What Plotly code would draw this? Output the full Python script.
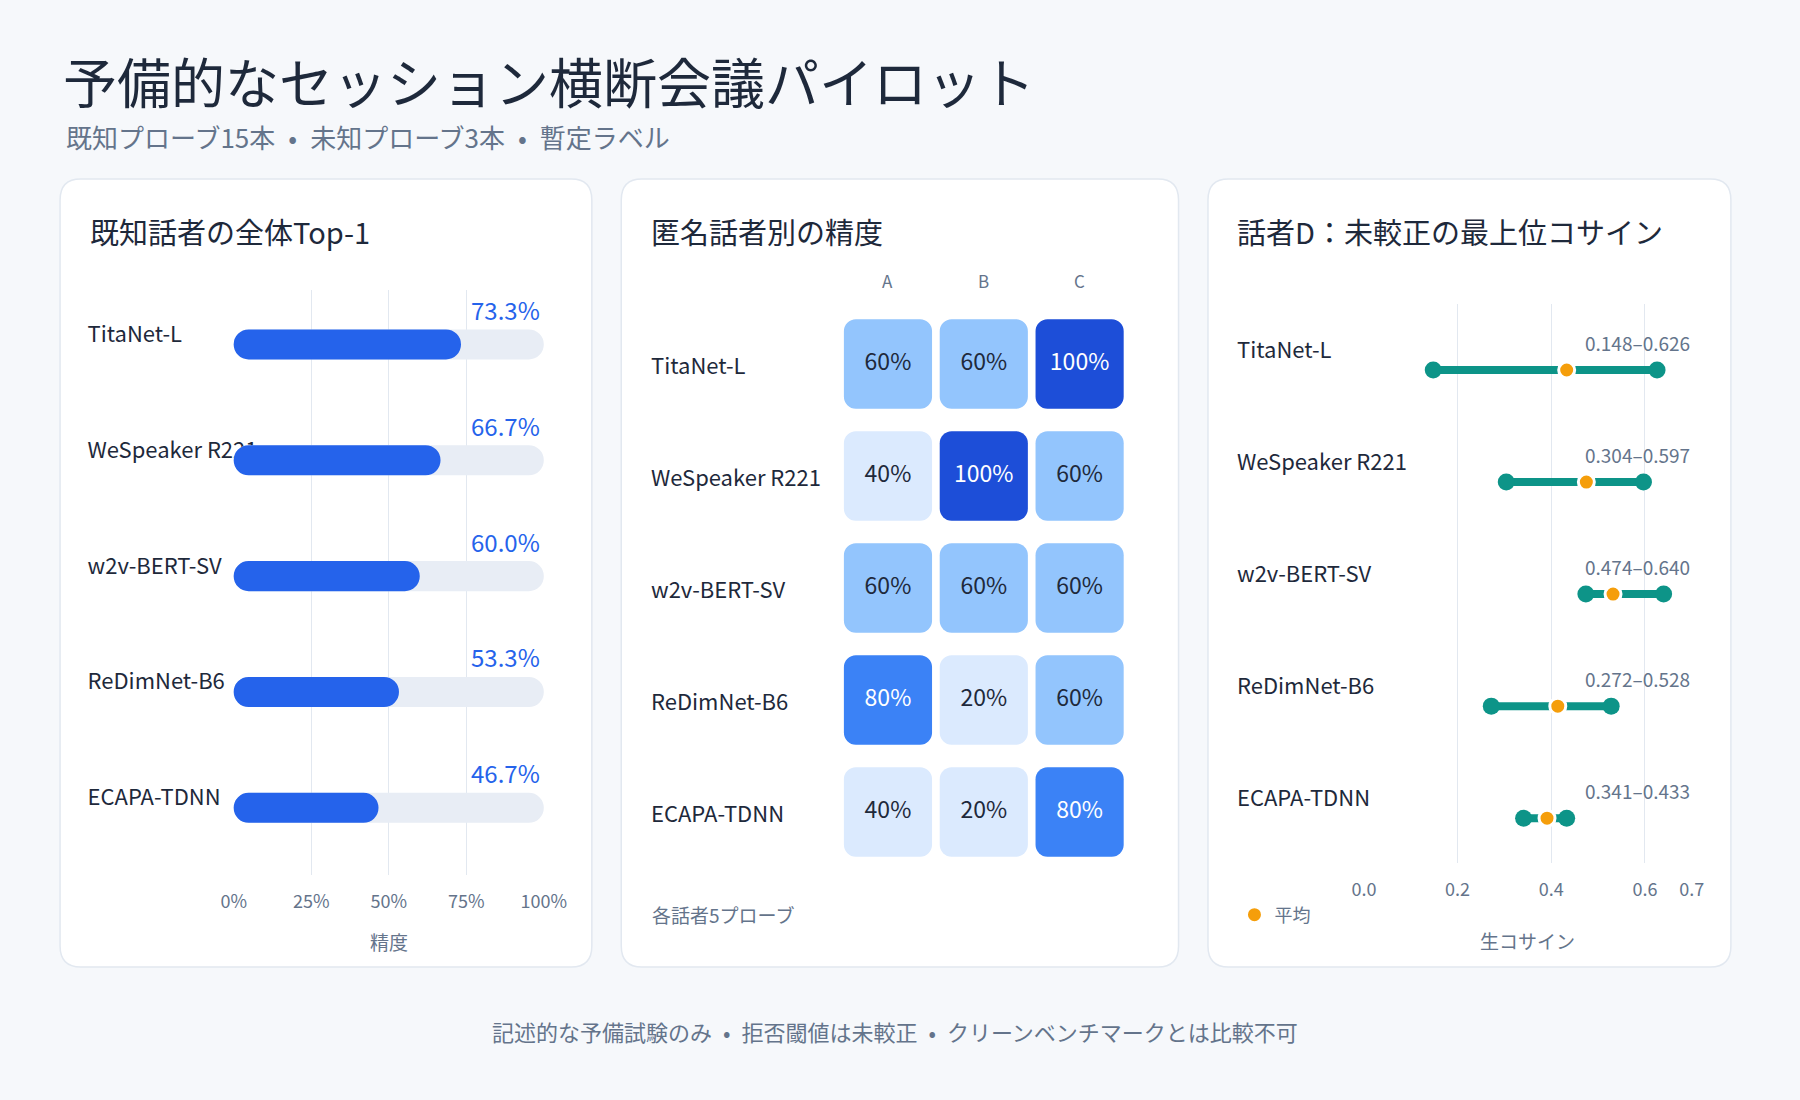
"""Cross-session meeting pilot: three-panel summary figure"""

import plotly.graph_objects as go

W, H = 1800, 1100

SEP = "\u2002•\u2002"
TITLE = "予備的なセッション横断会議パイロット"
SUBTITLE = SEP.join(["既知プローブ15本", "未知プローブ3本", "暫定ラベル"])
FOOTER = SEP.join(["記述的な予備試験のみ", "拒否閾値は未較正", "クリーンベンチマークとは比較不可"])

PANEL_TITLES = ["既知話者の全体Top-1", "匿名話者別の精度", "話者D：未較正の最上位コサイン"]

MODELS = ["TitaNet-L", "WeSpeaker R221", "w2v-BERT-SV", "ReDimNet-B6", "ECAPA-TDNN"]

# panel 1: overall top-1 on known speakers (%)
TOP1 = [73.3, 66.7, 60.0, 53.3, 46.7]
TOP1_TICKS = [0, 25, 50, 75, 100]

# panel 2: accuracy per anonymous speaker (%)
SPEAKERS = ["A", "B", "C"]
ACC_A = [60, 40, 60, 80, 40]
ACC_B = [60, 100, 60, 20, 20]
ACC_C = [100, 60, 60, 60, 80]
HEAT_NOTE = "各話者5プローブ"

# panel 3: speaker D raw top cosine
COS_MIN = [0.148, 0.304, 0.474, 0.272, 0.341]
COS_MAX = [0.626, 0.597, 0.640, 0.528, 0.433]
COS_MEAN = [0.433, 0.475, 0.532, 0.414, 0.391]
COS_TICKS = [0.0, 0.2, 0.4, 0.6, 0.7]

FONT = "Noto Sans CJK JP"
INK = "#1e293b"
MUTED = "#64748b"
GRID = "#e2e8f0"
BLUE = "#2563eb"
TRACK = "#e8edf5"
TEAL = "#0d9488"
ORANGE = "#f59e0b"
BG = "#f6f8fb"

HEAT_SCALE = [
    [0.0, "#dbeafe"], [0.5, "#dbeafe"],
    [0.5, "#93c5fd"], [0.7, "#93c5fd"],
    [0.7, "#3b82f6"], [0.9, "#3b82f6"],
    [0.9, "#1d4ed8"], [1.0, "#1d4ed8"],
]


def fx(px: float) -> float:
    return px / W


def fy(py: float) -> float:
    return 1 - py / H


def rounded_rect(x0, y0, x1, y1, r) -> str:
    """SVG path of a rounded rectangle in paper units (pixel input)."""
    rx, ry = r / W, r / H
    a, b = fx(x0), fx(x1)
    t, u = fy(y0), fy(y1)
    return (
        f"M{a + rx},{t} L{b - rx},{t} Q{b},{t} {b},{t - ry} "
        f"L{b},{u + ry} Q{b},{u} {b - rx},{u} "
        f"L{a + rx},{u} Q{a},{u} {a},{u + ry} "
        f"L{a},{t - ry} Q{a},{t} {a + rx},{t} Z"
    )


def pill(fig, start, stop, y, color, width, radius, xaxis, yaxis, **kw):
    """Horizontal bar from start to stop with all corners rounded."""
    fig.add_trace(
        go.Bar(
            base=start, x=[b - a for a, b in zip(start, stop)], y=y,
            orientation="h", width=width,
            marker=dict(color=color, cornerradius=radius, line=dict(width=0), **kw),
            xaxis=xaxis, yaxis=yaxis, hoverinfo="skip", showlegend=False,
        )
    )


fig = go.Figure()
n = len(MODELS)

# ---------- panel 1 ----------
# labels live in the first subplot so the bars are drawn over them
fig.add_trace(
    go.Scatter(
        x=[0] * n, y=MODELS, mode="text", text=MODELS,
        textposition="middle right",
        textfont=dict(size=22, color=INK, family=FONT),
        xaxis="x", yaxis="y", hoverinfo="skip", showlegend=False, cliponaxis=False,
    )
)
pill(fig, [TOP1_TICKS[0]] * n, [TOP1_TICKS[-1]] * n, MODELS, TRACK, 0.26, 15, "x2", "y2")
pill(fig, [TOP1_TICKS[0]] * n, TOP1, MODELS, BLUE, 0.26, 15, "x2", "y2")

# ---------- panel 2 ----------
for j, vals in enumerate([ACC_A, ACC_B, ACC_C]):
    pill(fig, [j - 0.46] * n, [j + 0.46] * n, MODELS, vals, 0.8, 12, "x3", "y3",
         colorscale=HEAT_SCALE, cmin=0, cmax=100)
    fig.add_trace(
        go.Scatter(
            x=[j] * n, y=MODELS, mode="text", text=[f"{v}%" for v in vals],
            textposition="middle center",
            textfont=dict(
                size=23, family=FONT,
                color=["#ffffff" if v >= 70 else INK for v in vals],
            ),
            xaxis="x3", yaxis="y3", hoverinfo="skip", showlegend=False,
        )
    )

# ---------- panel 3 ----------
for m, lo, hi in zip(MODELS, COS_MIN, COS_MAX):
    fig.add_trace(
        go.Scatter(
            x=[lo, hi], y=[m, m], mode="lines+markers",
            line=dict(color=TEAL, width=8),
            marker=dict(color=TEAL, size=17),
            xaxis="x4", yaxis="y4", showlegend=False,
        )
    )
fig.add_trace(
    go.Scatter(
        x=COS_MEAN, y=MODELS, mode="markers", name="平均",
        marker=dict(color=ORANGE, size=16, line=dict(color="#ffffff", width=3)),
        xaxis="x4", yaxis="y4", showlegend=True,
    )
)

# ---------- annotations ----------
ann = []


def text(x, y, s, size, color=INK, xanchor="left", **kw):
    ann.append(
        dict(
            x=x, y=y, text=s, showarrow=False, xanchor=xanchor, yanchor="middle",
            font=dict(size=size, color=color, family=FONT), **kw,
        )
    )


text(fx(50), fy(81), TITLE, 54, xref="paper", yref="paper")
text(fx(53), fy(136), SUBTITLE, 26, MUTED, xref="paper", yref="paper")
text(fx(900), fy(1031), FOOTER, 22, MUTED, xanchor="center", xref="paper", yref="paper")

for x0, t in zip([77, 649, 1247], PANEL_TITLES):
    text(fx(x0), fy(231), t, 29, xref="paper", yref="paper")

for m, v in zip(MODELS, TOP1):
    text(TOP1_TICKS[-1], m, f"{v:.1f}%", 24, BLUE, xanchor="right",
         xref="x2", yref="y2", yshift=35, xshift=-2)
text(fx(384), fy(941), "精度", 19, MUTED, xanchor="center", xref="paper", yref="paper")

for j, s in enumerate(SPEAKERS):
    text(j, fy(281), s, 17, MUTED, xanchor="center", xref="x3", yref="paper")
for m in MODELS:
    text(fx(649), m, m, 22, xref="paper", yref="y3")
text(fx(650), fy(914), HEAT_NOTE, 19, MUTED, xref="paper", yref="paper")

for m, lo, hi in zip(MODELS, COS_MIN, COS_MAX):
    text(fx(1247), m, m, 22, xref="paper", yref="y4", yshift=22)
    text(COS_TICKS[-1], m, f"{lo:.3f}–{hi:.3f}", 19, MUTED, xanchor="right",
         xref="x4", yref="y4", yshift=28)
text(fx(1545), fy(940), "生コサイン", 19, MUTED, xanchor="center", xref="paper", yref="paper")

# ---------- panels ----------
shapes = [
    dict(
        type="path", path=rounded_rect(*box, 21), xref="paper", yref="paper",
        fillcolor="#ffffff", line=dict(color="#e2e8f0", width=1.5), layer="below",
    )
    for box in [(49, 179, 591, 967), (621, 179, 1189, 967), (1219, 179, 1752, 967)]
]

hidden = dict(visible=False, showgrid=False, zeroline=False, fixedrange=True)
tickfont = dict(size=18, color=MUTED, family=FONT)

fig.update_layout(
    width=W, height=H,
    margin=dict(l=0, r=0, t=0, b=0),
    paper_bgcolor=BG, plot_bgcolor="rgba(0,0,0,0)",
    font=dict(family=FONT, color=INK),
    barmode="overlay",
    showlegend=True,
    legend=dict(
        x=fx(1246), y=fy(915), xanchor="left", yanchor="middle",
        bgcolor="rgba(0,0,0,0)", font=dict(size=18, color=MUTED, family=FONT),
    ),
    annotations=ann,
    shapes=shapes,
    xaxis=dict(domain=[fx(77), fx(542)], range=[0, 1], **hidden),
    yaxis=dict(domain=[fy(875), fy(290)], type="category",
               range=[4.58 + 0.07, -0.47 + 0.07], **hidden),
    xaxis2=dict(
        domain=[fx(225), fx(543)], range=[-0.3, 100.3], anchor="y2",
        tickvals=TOP1_TICKS, ticktext=[f"{t}%" for t in TOP1_TICKS],
        showgrid=True, gridcolor=GRID, gridwidth=1, zeroline=False, showline=False,
        ticks="", tickfont=tickfont, ticklabelstandoff=14, fixedrange=True,
    ),
    yaxis2=dict(domain=[fy(875), fy(290)], type="category", range=[4.58, -0.47],
                anchor="x2", **hidden),
    xaxis3=dict(domain=[fx(844), fx(1137)], range=[-0.5, 2.5], anchor="y3", **hidden),
    yaxis3=dict(domain=[fy(868), fy(308)], type="category", range=[4.5, -0.5],
                anchor="x3", **hidden),
    xaxis4=dict(
        domain=[fx(1377), fx(1713)], range=[-0.002, 0.702], anchor="y4",
        tickvals=COS_TICKS, tickformat=".1f", showgrid=True, gridcolor=GRID,
        gridwidth=1, zeroline=False, showline=False, ticks="",
        tickfont=tickfont, ticklabelstandoff=14, fixedrange=True,
    ),
    yaxis4=dict(domain=[fy(863), fy(304)], type="category", range=[4.40, -0.589],
                anchor="x4", **hidden),
)

fig.write_html(
    "out.html",
    config={"displayModeBar": False},
    post_script=f"document.body.style.margin='0';document.body.style.background='{BG}';",
)
